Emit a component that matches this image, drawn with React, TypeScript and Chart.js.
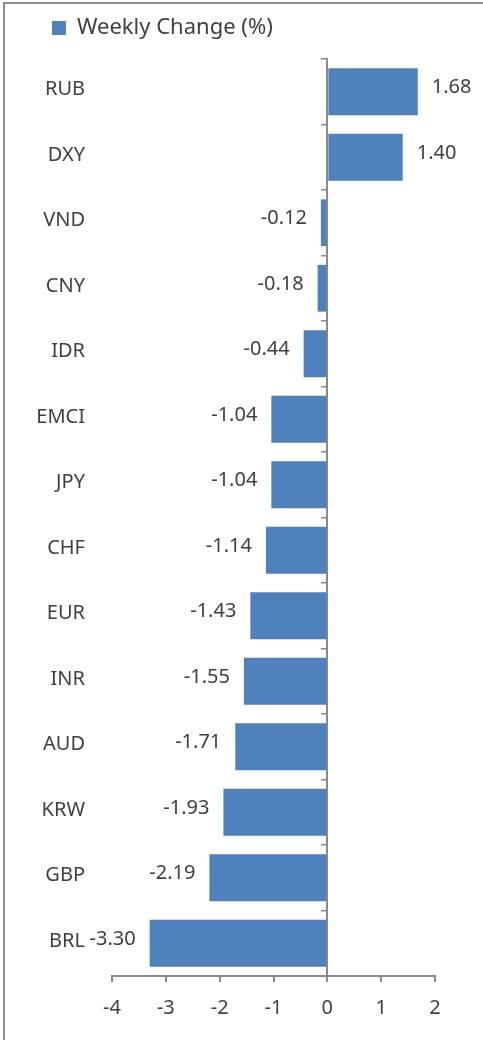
import React, { useEffect, useRef } from "react";
import { Chart, registerables } from "chart.js";

Chart.register(...registerables);

const categories = ["RUB", "DXY", "VND", "CNY", "IDR", "EMCI", "JPY", "CHF", "EUR", "INR", "AUD", "KRW", "GBP", "BRL"];
const weeklyChange = [1.68, 1.4, -0.12, -0.18, -0.44, -1.04, -1.04, -1.14, -1.43, -1.55, -1.71, -1.93, -2.19, -3.3];
const xTickValues = [-4, -3, -2, -1, 0, 1, 2];
const seriesLabel = "Weekly Change (%)";

const FONT = "'Noto Sans', sans-serif";
const TEXT = "#404040";
const AXIS = "#8a8a8a";
const BAR = "#4F81BD";

const valueLabels = {
  id: "valueLabels",
  afterDatasetsDraw(chart: any) {
    const ctx = chart.ctx;
    const meta = chart.getDatasetMeta(0);
    const data = chart.data.datasets[0].data as number[];
    ctx.save();
    ctx.font = `20px ${FONT}`;
    ctx.fillStyle = TEXT;
    ctx.textBaseline = "middle";
    meta.data.forEach((bar: any, i: number) => {
      const v = data[i];
      const { x, y } = bar.getProps(["x", "y"], true);
      const txt = v.toFixed(2);
      if (v >= 0) {
        ctx.textAlign = "left";
        ctx.fillText(txt, x + 14, y - 4);
      } else {
        ctx.textAlign = "right";
        ctx.fillText(txt, x - 14, y - 4);
      }
    });
    ctx.restore();
  },
};

const legendGap = {
  id: "legendGap",
  afterInit(chart: any) {
    const lg = chart.legend;
    if (!lg) return;
    const orig = lg.fit.bind(lg);
    lg.fit = () => {
      orig();
      lg.height += 10;
    };
  },
};

export default function App() {
  const ref = useRef<HTMLCanvasElement | null>(null);
  useEffect(() => {
    if (!ref.current) return;
    const chart = new Chart(ref.current, {
      type: "bar",
      data: {
        labels: categories,
        datasets: [
          {
            label: seriesLabel,
            data: weeklyChange,
            backgroundColor: BAR,
            borderWidth: 0,
            categoryPercentage: 1,
            barPercentage: 1 / 1.4,
            xAxisID: "x",
            yAxisID: "y",
          },
        ],
      },
      options: {
        indexAxis: "y",
        animation: false,
        responsive: false,
        devicePixelRatio: 1,
        layout: { padding: { top: 0, left: 35, right: 48, bottom: 6 } },
        plugins: {
          legend: {
            position: "top",
            align: "start",
            labels: {
              boxWidth: 14,
              boxHeight: 14,
              padding: 17,
              color: TEXT,
              font: { family: FONT, size: 22 },
            },
          },
          tooltip: { enabled: false },
        },
        scales: {
          x: {
            type: "linear",
            min: -4,
            max: 2,
            afterBuildTicks: (s: any) => {
              s.ticks = xTickValues.map((v) => ({ value: v }));
            },
            ticks: { color: TEXT, font: { family: FONT, size: 20 }, padding: 14 },
            grid: { drawOnChartArea: false, drawTicks: true, tickLength: 6, color: AXIS, lineWidth: 2 },
            border: { display: true, color: AXIS, width: 2 },
          },
          y: {
            type: "category",
            position: "left",
            afterFit: (s: any) => {
              s.width = 77;
            },
            ticks: { color: TEXT, font: { family: FONT, size: 20 }, padding: 27, labelOffset: -2 },
            grid: { display: false, drawTicks: false },
            border: { display: false },
          },
          y2: {
            type: "category",
            axis: "y",
            labels: categories,
            position: { x: 0 },
            offset: true,
            ticks: { display: false },
            grid: { offset: true, drawOnChartArea: false, drawTicks: true, tickLength: 5, color: AXIS, lineWidth: 1.5 },
            border: { display: true, color: AXIS, width: 2 },
          },
        } as any,
      },
      plugins: [legendGap, valueLabels],
    });
    return () => chart.destroy();
  }, []);

  return (
    <div style={{ position: "absolute", left: 0, top: 0, width: 483, height: 1040, overflow: "hidden", background: "#fff" }}>
      <div
        style={{
          position: "absolute",
          left: 3,
          top: 2,
          width: 520,
          height: 1080,
          borderLeft: "2px solid #8f8f8f",
          borderTop: "2px solid #8f8f8f",
        }}
      />
      <canvas ref={ref} width={483} height={1040} style={{ position: "absolute", left: 0, top: 0, display: "block" }} />
    </div>
  );
}
